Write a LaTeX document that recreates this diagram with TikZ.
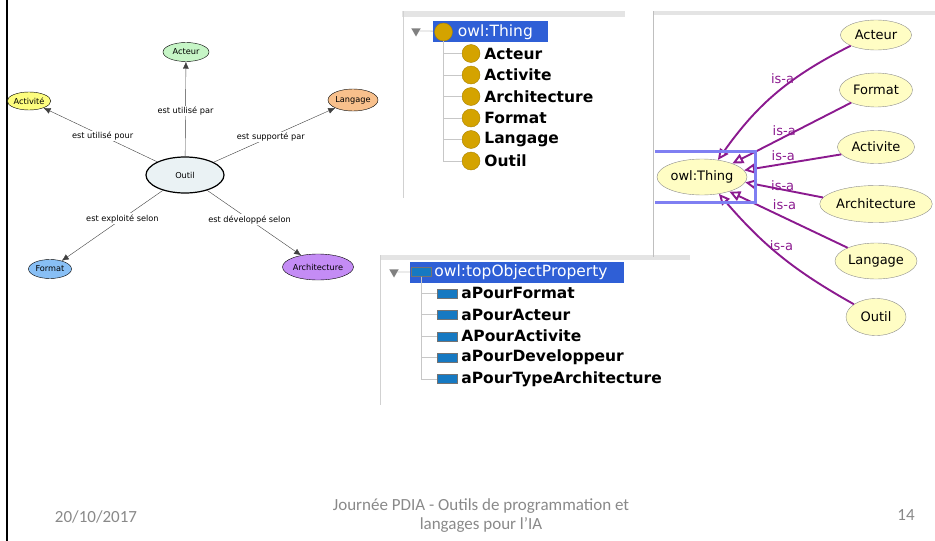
\documentclass[tikz,border=0pt]{standalone}
\usepackage{fontspec}
\setmainfont{DejaVu Sans}
\newfontfamily\slidefont{Carlito}
\usetikzlibrary{shapes.geometric,arrows.meta,positioning}
\definecolor{selblue}{HTML}{2F5FD6}
\definecolor{isapurple}{HTML}{8B1A8F}
\definecolor{boxblue}{HTML}{7F7FF2}
\definecolor{gold}{HTML}{D4A300}
\definecolor{propblue}{HTML}{1679C2}
\definecolor{cream}{HTML}{FFFDC4}
\definecolor{panelgray}{HTML}{E4E4E4}
\definecolor{footgray}{HTML}{898989}
\definecolor{outilfill}{HTML}{EAF2F4}
\definecolor{acteurfill}{HTML}{C6F5C6}
\definecolor{activitefill}{HTML}{FDFD7E}
\definecolor{langagefill}{HTML}{F8C08C}
\definecolor{formatfill}{HTML}{88BFF5}
\definecolor{archifill}{HTML}{C48CF5}
\begin{document}
\begin{tikzpicture}[x=1pt,y=-1pt,
    concept/.style={ellipse,draw,inner sep=0pt,font=\fontsize{8.2}{10}\selectfont},
    rel/.style={draw=black!75,-{Latex[length=7pt,width=6pt]}},
    rellabel/.style={fill=white,inner sep=1pt,font=\fontsize{8.2}{10}\selectfont},
    expander/.style={regular polygon,regular polygon sides=3,shape border rotate=180,fill=black!50,inner sep=0pt,minimum size=11pt},
    selbox/.style={fill=selblue,inner sep=0pt},
    clsicon/.style={circle,fill=gold,draw=gold!80!black,inner sep=0pt,minimum size=18pt},
    propicon/.style={rectangle,fill=propblue,draw=black!55,inner sep=0pt,minimum width=20pt,minimum height=9pt},
    entry/.style={font=\fontsize{15.5}{17}\selectfont\bfseries,inner sep=0pt,anchor=west},
    selected/.style={font=\fontsize{15.5}{17}\selectfont,text=white,inner sep=0pt,anchor=west},
    branch/.style={draw=black!22,line width=0.8pt},
    owl/.style={ellipse,draw=black!45,fill=cream,inner sep=0pt,font=\fontsize{13}{15}\selectfont},
    isa/.style={draw=isapurple,line width=1.9pt,-{Triangle[open,length=11pt,width=10pt]}},
    isalabel/.style={text=isapurple,font=\fontsize{13}{15}\selectfont,inner sep=0.5pt},
    foot/.style={text=footgray,font=\slidefont\fontsize{17}{19}\selectfont}]
  \useasboundingbox (0,0) rectangle (935,541);
  \draw[line width=2.5pt] (7,0) -- (7,541);

  % concept map
  \node[concept,fill=outilfill,minimum width=78pt,minimum height=36pt,line width=1.2pt](outil) at (185,175){Outil};
  \foreach \n/\t/\x/\y/\w/\h/\c in{acteur/Acteur/186/52/46/19/acteurfill, activite/Activité/29/101/43/18/activitefill,
      langage/Langage/353/100/50/22/langagefill, format/Format/50/269/43/19/formatfill, archi/Architecture/318/267/64/26/archifill}{
    \node[concept,fill=\c,minimum width=\w pt,minimum height=\h pt](\n) at (\x,\y){\t};
  }
  \foreach \n/\t/\p in{acteur/est utilisé par/0.48, activite/est utilisé pour/0.48, langage/est supporté par/0.47,
      format/est exploité selon/0.4, archi/est développé selon/0.45}{
    \draw[rel](outil)--node[rellabel,pos=\p]{\t}(\n);
  }

  % panels
  \fill[panelgray] (402,11) rectangle (625,17);
  \draw[black!18] (403,11) -- (403,198);
  \fill[panelgray] (380,255) rectangle (690,260);
  \draw[black!18] (380,255) -- (380,405);
  \fill[panelgray] (653,11) rectangle (935,15);
  \draw[black!25,line width=1pt] (653,11) -- (653,257);

  % class hierarchy
  \node[expander](exp1) at (416,31){};
  \node[selbox,minimum width=115pt,minimum height=21pt](sel1) at (490.5,31.5){};
  \draw[branch](exp1)--(sel1);
  \node[clsicon](thing) at (443.5,32){};
  \node[selected,right=5pt of thing](thingtxt){owl:Thing};
  \foreach \i/\t in{1/Acteur, 2/Activite, 3/Architecture, 4/Format, 5/Langage, 6/Outil}{
    \node[clsicon](c\i) at (471,32+21.5*\i){};
    \node[entry,right=4pt of c\i](ct\i){\t};
    \draw[branch](thing)|-(c\i);
  }

  % property hierarchy
  \node[expander](exp2) at (394,272){};
  \node[selbox,minimum width=214pt,minimum height=21pt](sel2) at (517,272.5){};
  \draw[branch](exp2)--(sel2);
  \node[propicon](top) at (421,272){};
  \node[selected,right=3pt of top](toptxt){owl:topObjectProperty};
  \foreach \i/\t in{1/aPourFormat, 2/aPourActeur, 3/APourActivite, 4/aPourDeveloppeur, 5/aPourTypeArchitecture}{
    \node[propicon](p\i) at (447,272+21.4*\i){};
    \node[entry,right=4pt of p\i](pt\i){\t};
    \draw[branch](top)|-(p\i);
  }

  % is-a graph
  \node[owl,minimum width=90pt,minimum height=36pt](owlthing) at (702,177){owl:Thing};
  \foreach \n/\t/\y/\w/\h in{racteur/Acteur/35/71/30, rformat/Format/90/73/34, ractivite/Activite/147/77/33,
      rarchi/Architecture/204/107/37, rlangage/Langage/261/82/36, routil/Outil/317/60/37}{
    \node[owl,minimum width=\w pt,minimum height=\h pt](\n) at (876,\y){\t};
  }
  \foreach \n/\s/\e/\b/\p/\ang in{racteur/203/47/14/0.35/east, rformat/207/24/0/0.45/east,
      ractivite/192/9/0/0.46/south east, rarchi/173/353/0/0.34/south east,
      rlangage/155/332/0/0.655/south west, routil/150/315/-10/0.6/west}{
    \draw[isa](\n.\s)to[bend right=\b]node[isalabel,pos=\p,anchor=\ang]{is-a}(owlthing.\e);
  }
  \draw[boxblue,line width=3pt] (655,151) -- (755,151) -- (755,202) -- (655,202);

  % footer
  \node[foot](date) at (96,517){20/10/2017};
  \node[foot,align=center](title) at (481,516){Journée PDIA - Outils de programmation et\\langages pour l’IA};
  \node[foot](page) at (906,515){14};
\end{tikzpicture}
\end{document}
